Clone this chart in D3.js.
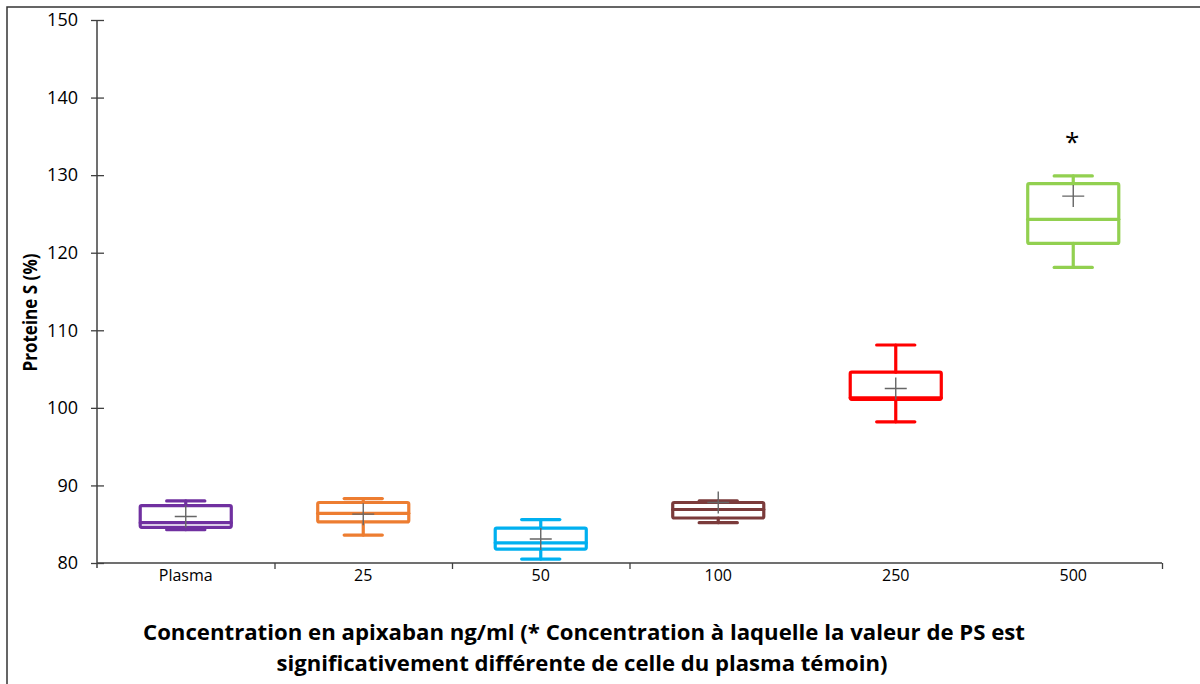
<!DOCTYPE html>
<html>
<head>
<meta charset="utf-8">
<script src="https://cdn.jsdelivr.net/npm/d3@7/dist/d3.min.js"></script>
<style>
html,body{margin:0;padding:0;background:#fff;}
svg{display:block;}
</style>
</head>
<body>
<svg id="chart" width="1200" height="684"></svg>
<script>
const categories = ["Plasma", "25", "50", "100", "250", "500"];
const whiskerLow  = [84.3, 83.6, 80.5, 85.2, 98.2, 118.1];
const q1          = [84.6, 85.3, 81.8, 85.8, 101.1, 121.2];
const median      = [85.2, 86.4, 82.6, 86.9, 101.3, 124.3];
const q3          = [87.4, 87.8, 84.5, 87.8, 104.6, 128.9];
const whiskerHigh = [88.0, 88.3, 85.6, 88.0, 108.1, 129.9];
const means       = [86.0, 86.3, 83.1, 87.8, 102.5, 127.3];
const significant = [false, false, false, false, false, true];
const colors      = ["#7030A0", "#ED7D31", "#00B0F0", "#7B3B3B", "#FF0000", "#92D050"];
const yTicks      = [80, 90, 100, 110, 120, 130, 140, 150];
const yTitle = "Proteine S (%)";
const xTitleLines = ["Concentration en apixaban ng/ml (* Concentration à laquelle la valeur de PS est",
                     "significativement différente de celle du plasma témoin)"];

(function () {
const svg = d3.select("#chart");
const font = "'Open Sans', 'Liberation Sans', sans-serif";
const mLeft = 97, mRight = 1162, mTop = 20, mBottom = 563;

// frame
svg.append("path").attr("d", "M7,684 V7 H1200").attr("fill", "none")
  .attr("stroke", "#333").attr("stroke-width", 1.5);

const y = d3.scaleLinear().domain([80, 150]).range([mBottom, mTop]);
const x = d3.scaleBand().domain(categories).range([mLeft, mRight]).padding(0);
const xb = d3.scaleLinear().domain([0, categories.length]).range([mLeft, mRight]);

// y axis
const gy = svg.append("g").attr("transform", `translate(${mLeft},0)`)
  .call(d3.axisLeft(y).tickValues(yTicks).tickSizeInner(6).tickSizeOuter(0).tickPadding(13));
gy.select(".domain").remove();
gy.selectAll(".tick line").attr("x1", -6).attr("x2", 7).attr("stroke", "#404040").attr("stroke-width", 1.3);
gy.selectAll(".tick text").attr("font-family", font).attr("font-size", 18).attr("fill", "#000");
gy.append("line").attr("x1", 0).attr("x2", 0).attr("y1", mTop).attr("y2", mBottom + 5)
  .attr("stroke", "#404040").attr("stroke-width", 1.5);

// x axis boundary ticks
const gxb = svg.append("g").attr("transform", `translate(0,${mBottom})`)
  .call(d3.axisBottom(xb).tickValues([1, 2, 3, 6]).tickSizeInner(6).tickSizeOuter(0).tickFormat(""));
gxb.select(".domain").remove();
gxb.selectAll(".tick line").attr("stroke", "#404040").attr("stroke-width", 1.3);
svg.append("line").attr("x1", mLeft).attr("x2", mRight).attr("y1", mBottom).attr("y2", mBottom)
  .attr("stroke", "#404040").attr("stroke-width", 1.5);

// x category labels
const gx = svg.append("g").attr("transform", `translate(0,${mBottom})`)
  .call(d3.axisBottom(x).tickSize(0).tickPadding(7));
gx.select(".domain").remove();
gx.selectAll(".tick text").attr("font-family", font).attr("font-size", 16).attr("fill", "#000");

// boxes
const bw = x.bandwidth();
const boxW = bw * 0.513;
const capW = bw * 0.215;
const g = svg.append("g");
categories.forEach((c, i) => {
  const cx = x(c) + bw / 2;
  const col = colors[i];
  const gg = g.append("g").attr("stroke", col).attr("stroke-width", 3.2)
    .attr("stroke-linecap", "round").attr("stroke-linejoin", "round").attr("fill", "none");
  gg.append("line").attr("x1", cx).attr("x2", cx).attr("y1", y(whiskerHigh[i])).attr("y2", y(q3[i]));
  gg.append("line").attr("x1", cx).attr("x2", cx).attr("y1", y(q1[i])).attr("y2", y(whiskerLow[i]));
  gg.append("line").attr("x1", cx - capW / 2).attr("x2", cx + capW / 2)
    .attr("y1", y(whiskerHigh[i])).attr("y2", y(whiskerHigh[i]));
  gg.append("line").attr("x1", cx - capW / 2).attr("x2", cx + capW / 2)
    .attr("y1", y(whiskerLow[i])).attr("y2", y(whiskerLow[i]));
  gg.append("rect").attr("x", cx - boxW / 2).attr("width", boxW)
    .attr("y", y(q3[i])).attr("height", y(q1[i]) - y(q3[i])).attr("rx", 1.5);
  gg.append("line").attr("x1", cx - boxW / 2).attr("x2", cx + boxW / 2)
    .attr("y1", y(median[i])).attr("y2", y(median[i]));
  const my = y(means[i]);
  g.append("path").attr("d", `M${cx - 11},${my} H${cx + 11} M${cx},${my - 11} V${my + 11}`)
    .attr("stroke", "#666").attr("stroke-width", 1.4).attr("fill", "none");
  if (significant[i]) {
    g.append("text").attr("x", cx - 1).attr("y", y(whiskerHigh[i]) - 25)
      .attr("text-anchor", "middle").attr("font-family", font).attr("font-size", 26)
      .attr("fill", "#000").text("*");
  }
});

// y title
svg.append("text").attr("transform", `translate(37,${(mTop + mBottom) / 2 + 21}) rotate(-90)`)
  .attr("text-anchor", "middle").attr("font-family", font).attr("font-weight", "bold")
  .attr("font-size", 19.5).attr("textLength", 118).attr("lengthAdjust", "spacingAndGlyphs")
  .attr("fill", "#000").text(yTitle);

// x title
const tt = svg.append("text").attr("text-anchor", "middle").attr("font-family", font)
  .attr("font-weight", "bold").attr("font-size", 20.5).attr("fill", "#000");
tt.append("tspan").attr("x", 584).attr("y", 640).attr("textLength", 882)
  .attr("lengthAdjust", "spacingAndGlyphs").text(xTitleLines[0]);
tt.append("tspan").attr("x", 582).attr("y", 671).attr("textLength", 611)
  .attr("lengthAdjust", "spacingAndGlyphs").text(xTitleLines[1]);
})();
</script>
</body>
</html>
